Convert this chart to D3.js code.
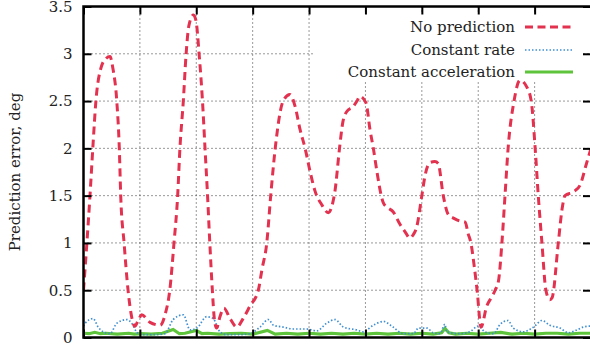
<!DOCTYPE html>
<html>
<head>
<meta charset="utf-8">
<script src="https://cdn.jsdelivr.net/npm/d3@7"></script>
<style>
  body { margin: 0; background: #fff; }
  svg text { font-family: "DejaVu Serif", serif; fill: #222; }
</style>
</head>
<body>
<svg id="chart" width="590" height="345"></svg>
<script>
// series labels
const seriesNames = ['No prediction', 'Constant rate', 'Constant acceleration'];

// No prediction (red dashed): [time, error]
const noPrediction = [
  [0.0, 0.50], [0.6, 1.0], [1.15, 1.5], [1.7, 2.05], [2.2, 2.5], [3.1, 2.85], [4.0, 2.95],
  [4.7, 2.97], [5.2, 2.85], [5.9, 2.5], [6.35, 2.0], [6.6, 1.5], [7.2, 1.0], [7.9, 0.5],
  [8.6, 0.2], [9.1, 0.12], [9.7, 0.18], [10.3, 0.24], [11.8, 0.16], [13.6, 0.13],
  [14.5, 0.25], [15.3, 0.5], [16.05, 1.0], [16.7, 1.5], [17.1, 2.0], [17.7, 2.5],
  [18.2, 3.0], [18.7, 3.3], [19.5, 3.41], [19.95, 3.35], [20.5, 3.0], [21.1, 2.5],
  [21.55, 2.0], [22.0, 1.5], [22.4, 1.0], [22.85, 0.5], [23.2, 0.2], [23.6, 0.1],
  [24.2, 0.22], [24.9, 0.31], [26.0, 0.2], [27.2, 0.11], [28.3, 0.2], [29.5, 0.33],
  [31.0, 0.5], [31.65, 0.72], [32.5, 1.0], [33.2, 1.5], [34.0, 2.0], [35.4, 2.5],
  [36.6, 2.57], [37.5, 2.45], [38.4, 2.2], [39.3, 2.0], [40.2, 1.75], [41.05, 1.55],
  [42.3, 1.4], [43.4, 1.32], [44.1, 1.4], [44.6, 1.55], [45.4, 2.0], [46.0, 2.28],
  [46.7, 2.39], [47.8, 2.44], [48.5, 2.5], [49.0, 2.55], [50.1, 2.48], [50.8, 2.2],
  [51.4, 2.0], [52.05, 1.75], [52.8, 1.5], [53.2, 1.42], [54.0, 1.37], [54.9, 1.33],
  [56.1, 1.2], [57.0, 1.12], [57.9, 1.05], [58.4, 1.08], [59.1, 1.17], [60.0, 1.5],
  [60.6, 1.72], [61.45, 1.85], [62.3, 1.86], [62.9, 1.84], [63.8, 1.5], [64.7, 1.3],
  [65.7, 1.26], [66.8, 1.23], [67.7, 1.22], [68.2, 1.1], [68.7, 1.0], [69.3, 0.75],
  [69.8, 0.5], [70.5, 0.11], [71.5, 0.33], [72.3, 0.42], [73.0, 0.5], [73.6, 0.6],
  [74.2, 1.0], [74.75, 1.5], [75.3, 2.0], [76.35, 2.5], [77.4, 2.72], [78.6, 2.65],
  [79.4, 2.5], [80.1, 2.0], [80.65, 1.5], [81.3, 1.0], [82.0, 0.5], [82.7, 0.4],
  [83.1, 0.42], [84.2, 1.0], [84.85, 1.35], [85.4, 1.5], [86.9, 1.54], [88.05, 1.61],
  [89.2, 1.84], [90.0, 2.0]
];

// Constant rate (blue dotted)
const constantRate = [
  [0.0, 0.12], [0.3, 0.15], [1.7, 0.2], [2.6, 0.11], [3.5, 0.06], [4.7, 0.04], [5.9, 0.15],
  [7.7, 0.19], [8.55, 0.15], [9.4, 0.06], [10.0, 0.03], [12.4, 0.03], [14.45, 0.04],
  [15.9, 0.19], [17.7, 0.24], [18.9, 0.08], [20.1, 0.1], [21.85, 0.22], [23.0, 0.2],
  [24.2, 0.06], [25.4, 0.03], [27.75, 0.03], [29.5, 0.04], [31.3, 0.11], [32.8, 0.19],
  [33.7, 0.13], [35.4, 0.11], [37.2, 0.09], [39.6, 0.09], [41.35, 0.07], [43.1, 0.15],
  [44.6, 0.19], [46.1, 0.11], [48.45, 0.08], [49.6, 0.06], [51.4, 0.13], [53.2, 0.17],
  [54.9, 0.11], [56.7, 0.04], [58.5, 0.04], [59.4, 0.1], [60.9, 0.1], [62.0, 0.05],
  [63.2, 0.04], [64.1, 0.14], [64.4, 0.06], [66.8, 0.04], [68.5, 0.06], [70.0, 0.12],
  [71.2, 0.06], [72.7, 0.04], [73.9, 0.14], [75.3, 0.18], [76.2, 0.1], [78.0, 0.06],
  [79.8, 0.11], [81.3, 0.18], [82.7, 0.13], [84.5, 0.1], [86.0, 0.05], [87.5, 0.08],
  [88.6, 0.11], [89.7, 0.12], [90.0, 0.12]
];

// Constant acceleration (green solid)
const constantAccel = [
  [0, 0.045], [1, 0.04], [2, 0.055], [3, 0.04], [4, 0.045], [6, 0.035], [8, 0.045],
  [9, 0.035], [10, 0.04], [12, 0.035], [14, 0.045], [15.9, 0.085], [17, 0.04], [18, 0.045],
  [20, 0.075], [21, 0.04], [22, 0.045], [24, 0.035], [26, 0.04], [28, 0.045], [30, 0.035],
  [32.6, 0.075], [34, 0.035], [36, 0.045], [38, 0.035], [40, 0.045], [42, 0.035],
  [44, 0.045], [46, 0.035], [48, 0.045], [50, 0.035], [52, 0.045], [54, 0.035],
  [56, 0.045], [58, 0.035], [60, 0.045], [62, 0.035], [63.5, 0.05], [64.1, 0.095],
  [64.8, 0.05], [66, 0.035], [68, 0.045], [70, 0.035], [72, 0.045], [74, 0.055],
  [76, 0.035], [78, 0.045], [80, 0.035], [82, 0.045], [84, 0.045], [86, 0.035],
  [88, 0.045], [90, 0.045]
];

const yTicks = [0, 0.5, 1, 1.5, 2, 2.5, 3, 3.5];
const xTicks = [0, 10, 20, 30, 40, 50, 60, 70, 80, 90];

const colors = ['#e2324f', '#3f8fd2', '#5ec43b'];

const svg = d3.select('#chart');
const x0 = 83.5, x1 = 591, yTop = 6.5, yBot = 337.5;

const x = d3.scaleLinear().domain([0, 90]).range([x0, x1]);
const y = d3.scaleLinear().domain([0, 3.5]).range([yBot, yTop]);

svg.append('defs').append('clipPath').attr('id', 'plotClip')
  .append('rect')
    .attr('x', x0).attr('y', yTop)
    .attr('width', x1 - x0).attr('height', yBot - yTop);

// grid
const grid = svg.append('g').attr('class', 'grid');
grid.selectAll('line.h')
  .data(yTicks.filter(d => d > 0 && d < 3.5))
  .join('line')
    .attr('x1', x0).attr('x2', x1)
    .attr('y1', d => y(d)).attr('y2', d => y(d))
    .attr('stroke', '#333').attr('stroke-width', 1).attr('stroke-dasharray', '1,3');
grid.selectAll('line.v')
  .data(xTicks.filter(d => d > 0 && d < 90))
  .join('line')
    .attr('x1', d => x(d)).attr('x2', d => x(d))
    .attr('y1', yTop).attr('y2', yBot)
    .attr('stroke', '#333').attr('stroke-width', 1).attr('stroke-dasharray', '1,3');

// legend background covers the grid
svg.append('rect')
  .attr('x', 315).attr('y', 12).attr('width', 266).attr('height', 70)
  .attr('fill', '#fff');

// series
const line = d3.line()
  .x(d => x(d[0]))
  .y(d => y(d[1]))
  .curve(d3.curveMonotoneX);

const plot = svg.append('g').attr('clip-path', 'url(#plotClip)');

plot.append('path')
  .datum(constantAccel)
  .attr('d', line.curve(d3.curveLinear))
  .attr('fill', 'none')
  .attr('stroke', colors[2])
  .attr('stroke-width', 3.2);

plot.append('path')
  .datum(constantRate)
  .attr('d', line.curve(d3.curveMonotoneX))
  .attr('fill', 'none')
  .attr('stroke', colors[1])
  .attr('stroke-width', 1.7)
  .attr('stroke-dasharray', '1.5,2');

plot.append('path')
  .datum(noPrediction)
  .attr('d', line.curve(d3.curveMonotoneX))
  .attr('fill', 'none')
  .attr('stroke', colors[0])
  .attr('stroke-width', 3)
  .attr('stroke-dasharray', '8,5');

// axes with inward ticks
const yLeft = svg.append('g')
  .attr('transform', `translate(${x0},0)`)
  .call(d3.axisLeft(y).tickValues(yTicks).tickSize(-8).tickPadding(11).tickFormat(d => d));
const yRight = svg.append('g')
  .attr('transform', `translate(${x1},0)`)
  .call(d3.axisRight(y).tickValues(yTicks).tickSize(-8).tickFormat(''));
const xBottom = svg.append('g')
  .attr('transform', `translate(0,${yBot})`)
  .call(d3.axisBottom(x).tickValues(xTicks).tickSize(-8).tickFormat(''));
const xTop = svg.append('g')
  .attr('transform', `translate(0,${yTop})`)
  .call(d3.axisTop(x).tickValues(xTicks).tickSize(-8).tickFormat(''));

[yLeft, yRight, xBottom, xTop].forEach(g => {
  g.select('.domain').remove();
  g.selectAll('.tick line').attr('stroke', '#000').attr('stroke-width', 2);
});
yLeft.selectAll('text')
  .attr('font-family', '"DejaVu Serif", serif')
  .attr('font-size', 15)
  .attr('fill', '#222');

// frame
svg.append('path')
  .attr('d', `M${x1},${yTop}H${x0}V${yBot}H${x1}`)
  .attr('fill', 'none')
  .attr('stroke', '#000')
  .attr('stroke-width', 2.5);

// y axis title
svg.append('text')
  .attr('transform', `translate(20,${(yTop + yBot) / 2}) rotate(-90)`)
  .attr('text-anchor', 'middle')
  .attr('font-size', 15)
  .text('Prediction error, deg');

// legend
const legend = svg.append('g');
const rowY = [27, 50, 72];
const dashes = ['8,4.5', '1.5,2', null];
const widths = [3, 1.7, 3.2];
seriesNames.forEach((name, i) => {
  legend.append('text')
    .attr('x', 515)
    .attr('y', rowY[i] + 5)
    .attr('text-anchor', 'end')
    .attr('font-size', 15)
    .text(name);
  legend.append('line')
    .attr('x1', 525).attr('x2', 573)
    .attr('y1', rowY[i]).attr('y2', rowY[i])
    .attr('stroke', colors[i])
    .attr('stroke-width', widths[i])
    .attr('stroke-dasharray', dashes[i]);
});
</script>
</body>
</html>
